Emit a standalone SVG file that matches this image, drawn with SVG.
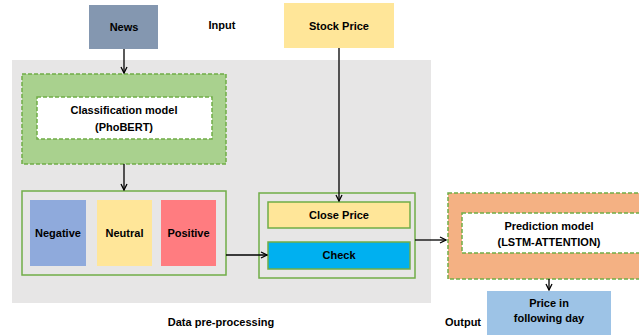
<svg xmlns="http://www.w3.org/2000/svg" width="639" height="335" viewBox="0 0 639 335">
<defs>
<marker id="ah" markerWidth="8" markerHeight="8" refX="7" refY="4" orient="auto" markerUnits="userSpaceOnUse">
<path d="M1,1 L7,4 L1,7" fill="none" stroke="#000" stroke-width="1.3"/>
</marker>
<style>
text{font-family:"Liberation Sans",Arial,sans-serif;font-weight:bold;font-size:11px;fill:#000;text-anchor:middle}
.dash{stroke:#70ad47;stroke-width:1.5;stroke-dasharray:4,2}
.solid{stroke:#70ad47;stroke-width:1.5}
.con{stroke:#000;stroke-width:1.3;fill:none;marker-end:url(#ah)}
</style>
</defs>
<rect width="639" height="335" fill="#fff"/>
<g id="preprocessing-bg">
<rect x="12" y="60" width="419" height="243" fill="#e7e6e6"/>
<text x="221" y="326">Data pre-processing</text>
</g>
<g id="input-label"><text x="222" y="29">Input</text></g>
<g id="output-label"><text x="463" y="326">Output</text></g>
<g id="news">
<rect x="89" y="5" width="69" height="44" fill="#8497b0"/>
<text x="124" y="31">News</text>
</g>
<g id="stock-price">
<rect x="284" y="3" width="110" height="45" fill="#ffe699"/>
<text x="339" y="30">Stock Price</text>
</g>
<g id="classification">
<rect x="22" y="74" width="204" height="90" fill="#a9d18e" class="dash"/>
<rect x="37" y="97" width="175" height="42" fill="#fff" class="dash"/>
<text x="124" y="114">Classification model</text>
<text x="124" y="131">(PhoBERT)</text>
</g>
<g id="sentiment">
<rect x="22" y="191" width="204" height="84" fill="none" class="solid"/>
<rect x="30" y="200" width="56" height="66" fill="#8faadc"/>
<text x="58" y="237">Negative</text>
<rect x="97" y="200" width="55" height="66" fill="#ffe699"/>
<text x="124.5" y="237">Neutral</text>
<rect x="161" y="200" width="55" height="66" fill="#ff7c80"/>
<text x="188.5" y="237">Positive</text>
</g>
<g id="price-check">
<rect x="259" y="193" width="156" height="85" fill="none" class="solid"/>
<rect x="268" y="202" width="142" height="26" fill="#ffe699" class="solid"/>
<text x="339" y="219">Close Price</text>
<rect x="268" y="242" width="142" height="27" fill="#00b0f0" class="solid"/>
<text x="339" y="259">Check</text>
</g>
<g id="prediction">
<rect x="448" y="193" width="200" height="86" fill="#f4b183" class="dash"/>
<rect x="462" y="213" width="180" height="40" fill="#fff" class="dash"/>
<text x="549" y="230">Prediction model</text>
<text x="549" y="246">(LSTM-ATTENTION)</text>
</g>
<g id="price-following">
<rect x="487" y="291" width="124" height="50" fill="#9dc3e6"/>
<text x="549" y="307">Price in</text>
<text x="549" y="322">following day</text>
</g>
<g id="connectors">
<line x1="124" y1="49" x2="124" y2="73" class="con"/>
<line x1="124" y1="164" x2="124" y2="190" class="con"/>
<line x1="339" y1="48" x2="339" y2="201" class="con"/>
<line x1="226" y1="255" x2="267" y2="255" class="con"/>
<line x1="415" y1="240" x2="446" y2="240" class="con"/>
<line x1="549" y1="279" x2="549" y2="290" class="con"/>
</g>
</svg>
